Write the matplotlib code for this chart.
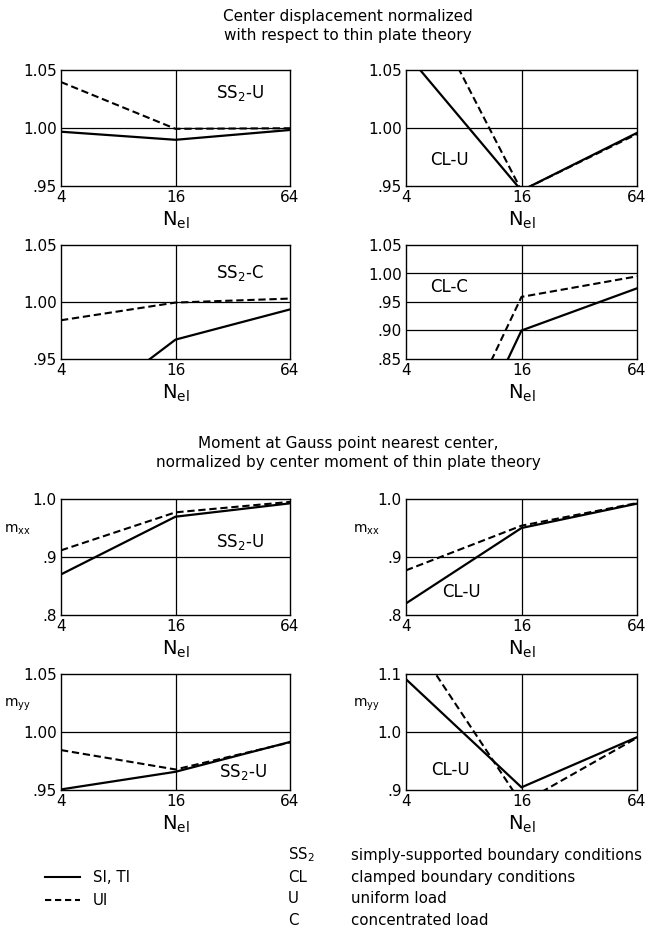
import matplotlib
matplotlib.use('Agg')
import matplotlib.pyplot as plt

plt.rcParams['font.family'] = ['DejaVu Sans']
plt.rcParams['mathtext.fontset'] = 'dejavusans'

# ---------------- data ----------------
N_el = [4, 16, 64]
x_ticklabels = ['4', '16', '64']

# Center displacement normalized
ss2u_disp_solid = [0.997, 0.990, 0.9985]
ss2u_disp_dash = [1.040, 0.9995, 1.000]
clu_disp_solid = [1.065, 0.946, 0.996]
clu_disp_dash = [1.140, 0.946, 0.995]
ss2c_disp_solid = [0.891, 0.967, 0.9935]
ss2c_disp_dash = [0.984, 0.9995, 1.003]
clc_disp_solid = [0.473, 0.900, 0.974]
clc_disp_dash = [0.532, 0.959, 0.995]

# Moments
ss2u_mxx_solid = [0.870, 0.9695, 0.9925]
ss2u_mxx_dash = [0.9115, 0.977, 0.995]
clu_mxx_solid = [0.820, 0.950, 0.992]
clu_mxx_dash = [0.877, 0.954, 0.993]
ss2u_myy_solid = [0.9505, 0.9657, 0.9914]
ss2u_myy_dash = [0.9844, 0.9677, 0.991]
clu_myy_solid = [1.091, 0.9046, 0.991]
clu_myy_dash = [1.177, 0.877, 0.990]

# y-axis ticks
yt_disp = [0.95, 1.00, 1.05]
yl_disp = ['.95', '1.00', '1.05']
yt_clc = [0.85, 0.90, 0.95, 1.00, 1.05]
yl_clc = ['.85', '.90', '.95', '1.00', '1.05']
yt_mxx = [0.8, 0.9, 1.0]
yl_mxx = ['.8', '.9', '1.0']
yt_myy_cl = [0.9, 1.0, 1.1]
yl_myy_cl = ['.9', '1.0', '1.1']

panel_labels = ['SS$_2$-U', 'CL-U', 'SS$_2$-C', 'CL-C',
                'SS$_2$-U', 'CL-U', 'SS$_2$-U', 'CL-U']

legend_lines = ['SI, TI', 'UI']
legend_codes = ['SS$_2$', 'CL', 'U', 'C']
legend_desc = ['simply-supported boundary conditions',
               'clamped boundary conditions',
               'uniform load',
               'concentrated load']

title1 = 'Center displacement normalized\nwith respect to thin plate theory'
title2 = 'Moment at Gauss point nearest center,\nnormalized by center moment of thin plate theory'

# ---------------- layout ----------------
W, H = 649, 930
fig = plt.figure(figsize=(W / 100, H / 100), dpi=100)

def fx(px):
    return px / W

def fy(py):
    return 1 - py / H

cols = [(61, 290), (406, 637)]
rows = [(70.5, 186), (245, 359), (499, 615), (674, 790)]

MXX = r'm$_{\mathrm{xx}}$'
MYY = r'm$_{\mathrm{yy}}$'

panels = [
    dict(s=ss2u_disp_solid, d=ss2u_disp_dash, ylim=(0.95, 1.05), yt=yt_disp, yl=yl_disp, h=[1.00], lab=(240, 93), yname=None),
    dict(s=clu_disp_solid, d=clu_disp_dash, ylim=(0.95, 1.05), yt=yt_disp, yl=yl_disp, h=[1.00], lab=(449, 160), yname=None),
    dict(s=ss2c_disp_solid, d=ss2c_disp_dash, ylim=(0.95, 1.05), yt=yt_disp, yl=yl_disp, h=[1.00], lab=(240, 273), yname=None),
    dict(s=clc_disp_solid, d=clc_disp_dash, ylim=(0.85, 1.05), yt=yt_clc, yl=yl_clc, h=[0.90, 0.95, 1.00], lab=(449, 287), yname=None),
    dict(s=ss2u_mxx_solid, d=ss2u_mxx_dash, ylim=(0.8, 1.0), yt=yt_mxx, yl=yl_mxx, h=[0.9], lab=(240, 542), yname=(MXX, 17, 530)),
    dict(s=clu_mxx_solid, d=clu_mxx_dash, ylim=(0.8, 1.0), yt=yt_mxx, yl=yl_mxx, h=[0.9], lab=(461, 592), yname=(MXX, 366, 530)),
    dict(s=ss2u_myy_solid, d=ss2u_myy_dash, ylim=(0.95, 1.05), yt=yt_disp, yl=yl_disp, h=[1.00], lab=(243, 772), yname=(MYY, 17, 705)),
    dict(s=clu_myy_solid, d=clu_myy_dash, ylim=(0.9, 1.1), yt=yt_myy_cl, yl=yl_myy_cl, h=[1.0], lab=(450, 770), yname=(MYY, 366, 705)),
]

for i, p in enumerate(panels):
    r, c = divmod(i, 2)
    x0, x1 = cols[c]
    y0, y1 = rows[r]
    ax = fig.add_axes([fx(x0), fy(y1), (x1 - x0) / W, (y1 - y0) / H])
    ax.set_xscale('log', base=2)
    ax.set_xlim(4, 64)
    ax.set_ylim(*p['ylim'])
    ax.set_xticks(N_el)
    ax.set_xticklabels(x_ticklabels)
    ax.minorticks_off()
    ax.set_yticks(p['yt'])
    ax.set_yticklabels(p['yl'])
    ax.tick_params(length=0, labelsize=11, pad=3)
    for sp in ax.spines.values():
        sp.set_linewidth(1.0)
        sp.set_color('black')
    ax.axvline(16, color='black', lw=0.9)
    for hv in p['h']:
        ax.axhline(hv, color='black', lw=0.9)
    ax.plot(N_el, p['s'], color='black', lw=1.6, solid_joinstyle='miter')
    ax.plot(N_el, p['d'], color='black', lw=1.5, linestyle=(0, (3.5, 1.8)))
    ax.set_xlabel(r'N$_{\mathrm{el}}$', fontsize=14, labelpad=3)
    fig.text(fx(p['lab'][0]), fy(p['lab'][1]), panel_labels[i],
             ha='center', va='center', fontsize=12)
    if p['yname']:
        t, px, py = p['yname']
        fig.text(fx(px), fy(py), t, ha='center', va='center', fontsize=10)

# titles
fig.text(fx(348), fy(26), title1, ha='center', va='center', fontsize=11, linespacing=1.35)
fig.text(fx(348), fy(453), title2, ha='center', va='center', fontsize=11, linespacing=1.35)

# legend: line styles
leg_y = [877, 900]
styles = ['-', (0, (3, 1.8))]
for ly, st, txt in zip(leg_y, styles, legend_lines):
    fig.add_artist(plt.Line2D([fx(45), fx(80)], [fy(ly), fy(ly)], color='black',
                              lw=1.5, linestyle=st, transform=fig.transFigure))
    fig.text(fx(93), fy(ly), txt, ha='left', va='center', fontsize=10.8)

# legend: abbreviations
code_y = [855, 877, 898, 920]
for cy, code, desc in zip(code_y, legend_codes, legend_desc):
    fig.text(fx(288), fy(cy), code, ha='left', va='center', fontsize=10.8)
    fig.text(fx(351), fy(cy), desc, ha='left', va='center', fontsize=10.8)

fig.savefig('out.png', dpi=100)
